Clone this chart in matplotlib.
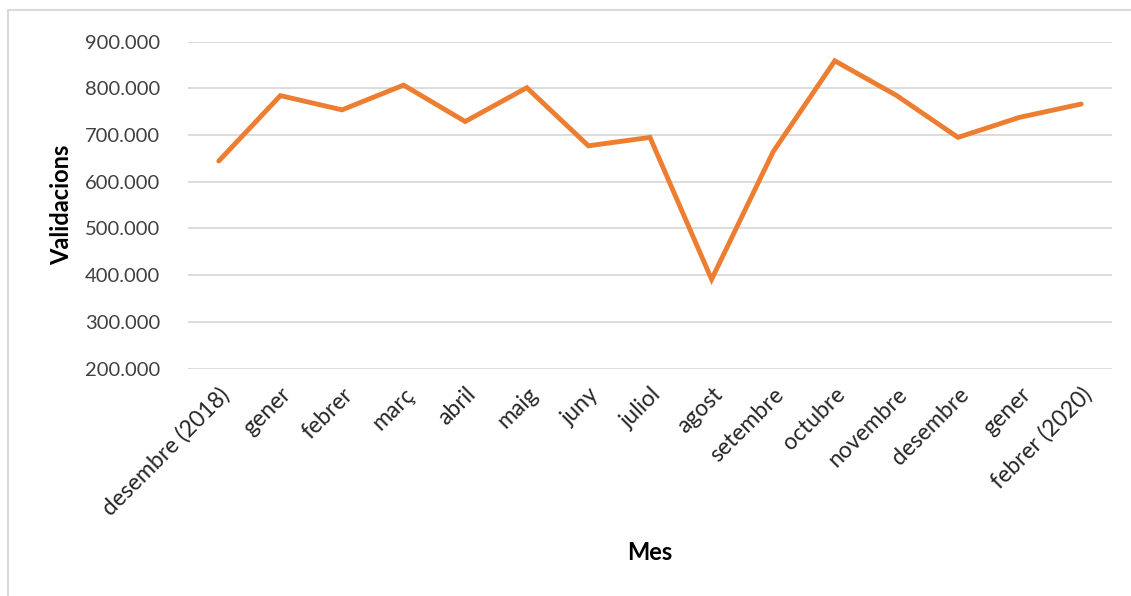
import matplotlib
matplotlib.use("Agg")
import matplotlib.pyplot as plt
from matplotlib.lines import Line2D
from matplotlib.ticker import FuncFormatter

months = ["desembre (2018)", "gener", "febrer", "març", "abril", "maig", "juny",
          "juliol", "agost", "setembre", "octubre", "novembre", "desembre",
          "gener", "febrer (2020)"]
validacions = [644500, 784500, 754000, 807000, 729000, 801500, 677000,
               695000, 391000, 664500, 859000, 785000, 695000, 738000, 766500]
y_ticks = [200000, 300000, 400000, 500000, 600000, 700000, 800000, 900000]

plt.rcParams["font.family"] = ["Lato", "DejaVu Sans"]

W, H = 1131, 596
fig = plt.figure(figsize=(W / 100, H / 100), dpi=100)
ax = fig.add_axes([188 / W, 1 - 368.5 / H, (1112 - 188) / W, (368.5 - 41.7) / H])

x = list(range(len(months)))
ax.plot(x, validacions, color="#ED7D31", linewidth=3.5, solid_joinstyle="miter",
        solid_capstyle="round", zorder=3)

ax.set_xlim(-0.5, len(months) - 0.5)
ax.set_ylim(200000, 900000)
ax.set_yticks(y_ticks)
ax.yaxis.set_major_formatter(FuncFormatter(lambda v, p: f"{int(v):,}".replace(",", ".")))
ax.set_xticks(x)
ax.set_xticklabels(months, rotation=45, ha="right", rotation_mode="anchor")

ax.grid(axis="y", color="#D9D9D9", linewidth=1.3)
ax.set_axisbelow(True)
for s in ax.spines.values():
    s.set_visible(False)
ax.tick_params(axis="y", length=0, labelsize=14.5, colors="#404040", pad=20)
ax.tick_params(axis="x", length=0, labelsize=16.5, colors="#262626", pad=11)

fig.text(62 / W, 1 - 205 / H, "Validacions", rotation=90, ha="center", va="center",
         fontsize=17, fontweight="bold", color="#000000")
fig.text(650 / W, 1 - 552 / H, "Mes", ha="center", va="center",
         fontsize=17, fontweight="bold", color="#000000")

# light frame around the chart area
fig.add_artist(Line2D([8 / W, 8 / W], [0, 1 - 10 / H], transform=fig.transFigure,
                      color="#D9D9D9", linewidth=1.5))
fig.add_artist(Line2D([8 / W, 1], [1 - 10 / H, 1 - 10 / H], transform=fig.transFigure,
                      color="#D9D9D9", linewidth=1.5))

fig.savefig("out.png", dpi=100, facecolor="white")
